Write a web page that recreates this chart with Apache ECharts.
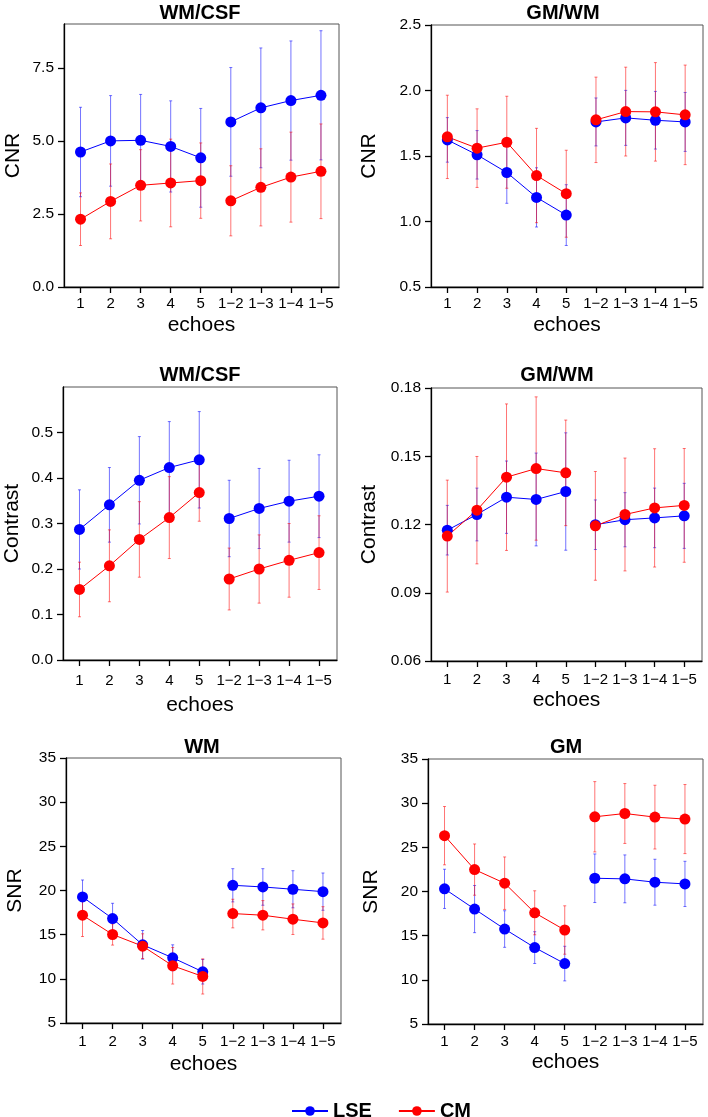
<!DOCTYPE html>
<html>
<head>
<meta charset="utf-8">
<title>echoes</title>
<script src="https://cdn.jsdelivr.net/npm/echarts@6/dist/echarts.min.js"></script>
<style>
  html, body { margin: 0; padding: 0; background: #fff; }
  #chart { width: 708px; height: 1117px; }
</style>
</head>
<body>
<div id="chart"></div>
<script>
// x categories (echo index / combined echoes)
const echoLabels = ['1', '2', '3', '4', '5', '1\u22122', '1\u22123', '1\u22124', '1\u22125']

// CNR WM/CSF
const cnrWmCsfLse = [4.62, 5.00, 5.02, 4.81, 4.42, 5.65, 6.13, 6.38, 6.56]
const cnrWmCsfLseErr = [1.53, 1.55, 1.57, 1.56, 1.69, 1.86, 2.05, 2.04, 2.21]
const cnrWmCsfCm = [2.32, 2.93, 3.48, 3.56, 3.64, 2.95, 3.41, 3.76, 3.96]
const cnrWmCsfCmErr = [0.90, 1.28, 1.22, 1.50, 1.29, 1.20, 1.32, 1.54, 1.62]

// CNR GM/WM
const cnrGmWmLse = [1.623, 1.509, 1.374, 1.184, 1.049, 1.760, 1.791, 1.773, 1.760]
const cnrGmWmLseErr = [0.170, 0.185, 0.235, 0.226, 0.232, 0.183, 0.210, 0.220, 0.225]
const cnrGmWmCm = [1.646, 1.560, 1.605, 1.351, 1.212, 1.776, 1.839, 1.837, 1.814]
const cnrGmWmCmErr = [0.318, 0.300, 0.351, 0.360, 0.332, 0.326, 0.339, 0.376, 0.380]

// Contrast WM/CSF
const conWmCsfLse = [0.287, 0.341, 0.395, 0.423, 0.440, 0.311, 0.333, 0.349, 0.360]
const conWmCsfLseErr = [0.087, 0.082, 0.096, 0.101, 0.106, 0.084, 0.088, 0.090, 0.091]
const conWmCsfCm = [0.155, 0.207, 0.265, 0.313, 0.368, 0.178, 0.200, 0.219, 0.236]
const conWmCsfCmErr = [0.060, 0.079, 0.083, 0.090, 0.063, 0.068, 0.075, 0.081, 0.081]

// Contrast GM/WM
const conGmWmLse = [0.1175, 0.1244, 0.1320, 0.1310, 0.1345, 0.1199, 0.1221, 0.1229, 0.1238]
const conGmWmLseErr = [0.0109, 0.0116, 0.0159, 0.0204, 0.0258, 0.0109, 0.0119, 0.0131, 0.0143]
const conGmWmCm = [0.1149, 0.1263, 0.1408, 0.1446, 0.1427, 0.1194, 0.1244, 0.1273, 0.1284]
const conGmWmCmErr = [0.0246, 0.0236, 0.0322, 0.0315, 0.0232, 0.0239, 0.0248, 0.0260, 0.0250]

// SNR WM
const snrWmLse = [19.27, 16.82, 13.85, 12.38, 10.80, 20.59, 20.40, 20.14, 19.87]
const snrWmLseErr = [1.92, 1.73, 1.62, 1.47, 1.39, 1.88, 2.07, 2.10, 2.11]
const snrWmCm = [17.20, 15.02, 13.70, 11.48, 10.27, 17.39, 17.20, 16.75, 16.33]
const snrWmCmErr = [2.41, 1.20, 1.40, 2.07, 1.99, 1.62, 1.66, 1.73, 1.84]

// SNR GM
const snrGmLse = [20.30, 18.01, 15.75, 13.65, 11.84, 21.50, 21.43, 21.05, 20.86]
const snrGmLseErr = [2.22, 2.67, 2.07, 1.80, 1.96, 2.75, 2.71, 2.60, 2.56]
const snrGmCm = [26.32, 22.48, 20.94, 17.59, 15.64, 28.46, 28.83, 28.42, 28.20]
const snrGmCmErr = [3.30, 2.90, 2.97, 2.49, 2.74, 3.98, 3.39, 3.61, 3.91]

// y tick values
const cnrWmCsfTicks = [0, 2.5, 5, 7.5]
const cnrGmWmTicks = [0.5, 1.0, 1.5, 2.0, 2.5]
const conWmCsfTicks = [0, 0.1, 0.2, 0.3, 0.4, 0.5]
const conGmWmTicks = [0.06, 0.09, 0.12, 0.15, 0.18]
const snrTicks = [5, 10, 15, 20, 25, 30, 35]

const FONT = 'Liberation Sans, Arial, sans-serif'
const BLUE = '#0000ff'
const RED = '#ff0000'
const BLUE_BAR = 'rgba(0, 0, 255, 0.55)'
const RED_BAR = 'rgba(255, 0, 0, 0.55)'

// panel layout
const panels = [
    { title: 'WM/CSF', tx: 200, ty: 13, yName: 'CNR', left: 64, top: 24, width: 275, height: 263,
        min: 0, max: 9, ticks: cnrWmCsfTicks, dec: 1, yGap: 40, lblGap: 9, xGap: 28,
        lse: cnrWmCsfLse, lseErr: cnrWmCsfLseErr, cm: cnrWmCsfCm, cmErr: cnrWmCsfCmErr },
    { title: 'GM/WM', tx: 563, ty: 13, yName: 'CNR', left: 431, top: 25, width: 272, height: 262,
        min: 0.5, max: 2.5, ticks: cnrGmWmTicks, dec: 1, yGap: 51, lblGap: 9, xGap: 28,
        lse: cnrGmWmLse, lseErr: cnrGmWmLseErr, cm: cnrGmWmCm, cmErr: cnrGmWmCmErr },
    { title: 'WM/CSF', tx: 200, ty: 375, yName: 'Contrast', left: 63, top: 387, width: 274, height: 273,
        min: 0, max: 0.6, ticks: conWmCsfTicks, dec: 1, yGap: 40, lblGap: 13, xGap: 35,
        lse: conWmCsfLse, lseErr: conWmCsfLseErr, cm: conWmCsfCm, cmErr: conWmCsfCmErr },
    { title: 'GM/WM', tx: 557, ty: 375, yName: 'Contrast', left: 431, top: 388, width: 271, height: 273,
        min: 0.06, max: 0.18, ticks: conGmWmTicks, dec: 2, yGap: 51, lblGap: 11, xGap: 29,
        lse: conGmWmLse, lseErr: conGmWmLseErr, cm: conGmWmCm, cmErr: conGmWmCmErr },
    { title: 'WM', tx: 202, ty: 747, yName: 'SNR', left: 66, top: 758, width: 275, height: 265,
        min: 5, max: 35, ticks: snrTicks, dec: 0, yGap: 40, lblGap: 11, xGap: 31,
        lse: snrWmLse, lseErr: snrWmLseErr, cm: snrWmCm, cmErr: snrWmCmErr },
    { title: 'GM', tx: 566, ty: 747, yName: 'SNR', left: 428, top: 759, width: 275, height: 265,
        min: 5, max: 35, ticks: snrTicks, dec: 0, yGap: 46, lblGap: 10, xGap: 28,
        lse: snrGmLse, lseErr: snrGmLseErr, cm: snrGmCm, cmErr: snrGmCmErr }
]

// line data with a break between echo 5 and 1-2
function lineData(vals) {
    const d = []
    vals.forEach((v, i) => {
        if (i === 5) d.push([5.5, '-'])
        d.push([i + 1, v])
    })
    return d
}

function errData(vals, errs) {
    return vals.map((v, i) => [i + 1, v - errs[i], v + errs[i]])
}

function errRender(color) {
    return function(params, api) {
        const x = api.value(0)
        const hi = api.coord([x, api.value(2)])
        const lo = api.coord([x, api.value(1)])
        const cap = 1.5
        const style = { stroke: color, lineWidth: 1 }
        return {
            type: 'group',
            children: [
                { type: 'line', shape: { x1: hi[0], y1: hi[1], x2: lo[0], y2: lo[1] }, style: style },
                { type: 'line', shape: { x1: hi[0] - cap, y1: hi[1], x2: hi[0] + cap, y2: hi[1] }, style: style },
                { type: 'line', shape: { x1: lo[0] - cap, y1: lo[1], x2: lo[0] + cap, y2: lo[1] }, style: style }
            ]
        }
    }
}

const grids = []
const xAxes = []
const yAxes = []
const series = []
const graphics = []

panels.forEach((p, k) => {
    grids.push({
        left: p.left, top: p.top, width: p.width, height: p.height,
        show: true, borderColor: '#555', borderWidth: 1, backgroundColor: 'transparent',
        containLabel: false, outerBoundsMode: 'none'
    })
    xAxes.push({
        type: 'value', gridIndex: k, min: 0.45, max: 9.6,
        name: 'echoes', nameLocation: 'middle', nameGap: p.xGap,
        nameTextStyle: { fontFamily: FONT, fontSize: 21, color: '#000' },
        axisLine: { show: true, lineStyle: { color: '#000', width: 1.3 } },
        axisTick: { show: true, length: 6, customValues: [1, 2, 3, 4, 5, 6, 7, 8, 9], lineStyle: { color: '#000', width: 1.3 } },
        axisLabel: {
            customValues: [1, 2, 3, 4, 5, 6, 7, 8, 9],
            margin: p.lblGap, fontFamily: FONT, fontSize: 15, color: '#000',
            formatter: (v) => echoLabels[Math.round(v) - 1] || ''
        },
        splitLine: { show: false }
    })
    yAxes.push({
        type: 'value', gridIndex: k, min: p.min, max: p.max,
        name: p.yName, nameLocation: 'middle', nameGap: p.yGap, nameRotate: 90,
        nameTextStyle: { fontFamily: FONT, fontSize: 21, color: '#000' },
        axisLine: { show: true, lineStyle: { color: '#000', width: 1.3 } },
        axisTick: { show: true, length: 6, customValues: p.ticks, lineStyle: { color: '#000', width: 1.3 } },
        axisLabel: {
            customValues: p.ticks,
            margin: 10, fontFamily: FONT, fontSize: 15.5, color: '#000',
            formatter: (v) => v.toFixed(p.dec)
        },
        splitLine: { show: false }
    })
    series.push({
        type: 'custom', name: 'LSE error', xAxisIndex: k, yAxisIndex: k, z: 1,
        renderItem: errRender(BLUE_BAR), encode: { x: 0, y: [1, 2] },
        data: errData(p.lse, p.lseErr), silent: true
    })
    series.push({
        type: 'custom', name: 'CM error', xAxisIndex: k, yAxisIndex: k, z: 1,
        renderItem: errRender(RED_BAR), encode: { x: 0, y: [1, 2] },
        data: errData(p.cm, p.cmErr), silent: true
    })
    series.push({
        type: 'line', name: 'LSE', xAxisIndex: k, yAxisIndex: k, z: 3,
        data: lineData(p.lse), connectNulls: false,
        symbol: 'circle', symbolSize: 11, showAllSymbol: true,
        lineStyle: { color: BLUE, width: 1 }, itemStyle: { color: BLUE },
        animation: false
    })
    series.push({
        type: 'line', name: 'CM', xAxisIndex: k, yAxisIndex: k, z: 3,
        data: lineData(p.cm), connectNulls: false,
        symbol: 'circle', symbolSize: 11, showAllSymbol: true,
        lineStyle: { color: RED, width: 1 }, itemStyle: { color: RED },
        animation: false
    })
    graphics.push({
        type: 'text', x: p.tx, y: p.ty,
        style: {
            text: p.title, fontFamily: FONT, fontSize: 20, fontWeight: 'bold',
            fill: '#000', align: 'center', verticalAlign: 'middle'
        }
    })
})

const chart = echarts.init(document.getElementById('chart'), null, { renderer: 'canvas' })
chart.setOption({
    backgroundColor: '#fff',
    animation: false,
    grid: grids,
    xAxis: xAxes,
    yAxis: yAxes,
    series: series,
    graphic: graphics,
    legend: {
        data: ['LSE', 'CM'],
        left: 286, top: 1096,
        itemWidth: 36, itemHeight: 12, itemGap: 26,
        textStyle: { fontFamily: FONT, fontSize: 20, fontWeight: 'bold', color: '#000' }
    }
})
</script>
</body>
</html>
